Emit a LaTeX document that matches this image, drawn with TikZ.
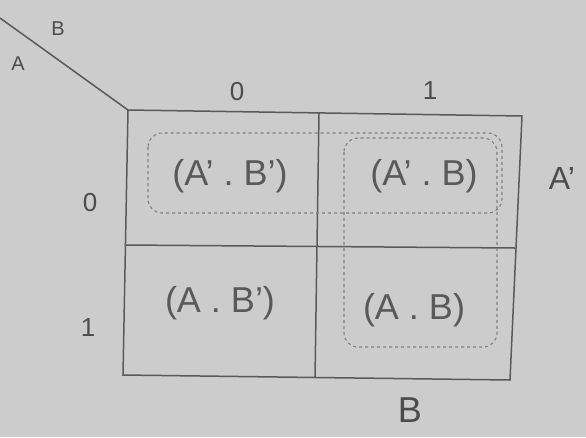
\documentclass[tikz,border=0pt]{standalone}
\usepackage{fontspec}
\setmainfont{Liberation Sans}
\begin{document}
\begin{tikzpicture}[x=1pt,y=-1pt,
  ink/.style={draw=black!65,line width=1.5pt},
  loop/.style={draw=black!50,dashed,line width=1.1pt,rounded corners=14pt},
  lbl/.style={text=black!70,font=\fontsize{26}{28}\selectfont},
  term/.style={text=black!65,font=\fontsize{36}{38}\selectfont}]
\fill[black!20] (0,0) rectangle (586,437);
\useasboundingbox (0,0) rectangle (586,437);
% grid corners
\coordinate (tl) at (128,110);
\coordinate (tr) at (522,116);
\coordinate (br) at (510,380);
\coordinate (bl) at (123,375);
\coordinate (tm) at (319,113);
\coordinate (bm) at (315,378);
\coordinate (ml) at (125,245);
\coordinate (mr) at (515,248);
\coordinate (diag) at (0,18);
\draw[ink] (tl) -- (tr) -- (br) -- (bl) -- cycle;
\draw[ink] (tm) -- (bm);
\draw[ink] (ml) -- (mr);
\draw[ink] (diag) -- (tl);
% loops
\draw[loop] (148,133) rectangle (502,213);
\draw[loop] (344,138) rectangle (497,347);
% labels
\node[lbl,font=\fontsize{20}{22}\selectfont] (la) at (18,64) {A};
\node[lbl,font=\fontsize{20}{22}\selectfont] (lb) at (58,29) {B};
\node[lbl] (c0) at (237,92) {0};
\node[lbl] (c1) at (430,91) {1};
\node[lbl] (r0) at (90,203) {0};
\node[lbl] (r1) at (88,328) {1};
\node[lbl,font=\fontsize{32}{34}\selectfont] (ra) at (562,178) {A'};
\node[lbl,font=\fontsize{36}{38}\selectfont] (cb) at (410,410) {B};
% terms
\node[term] (m0) at (230,176) {(A' . B')};
\node[term] (m1) at (424,176) {(A' . B)};
\node[term] (m2) at (220,303) {(A . B')};
\node[term] (m3) at (414,310) {(A . B)};
\end{tikzpicture}
\end{document}
